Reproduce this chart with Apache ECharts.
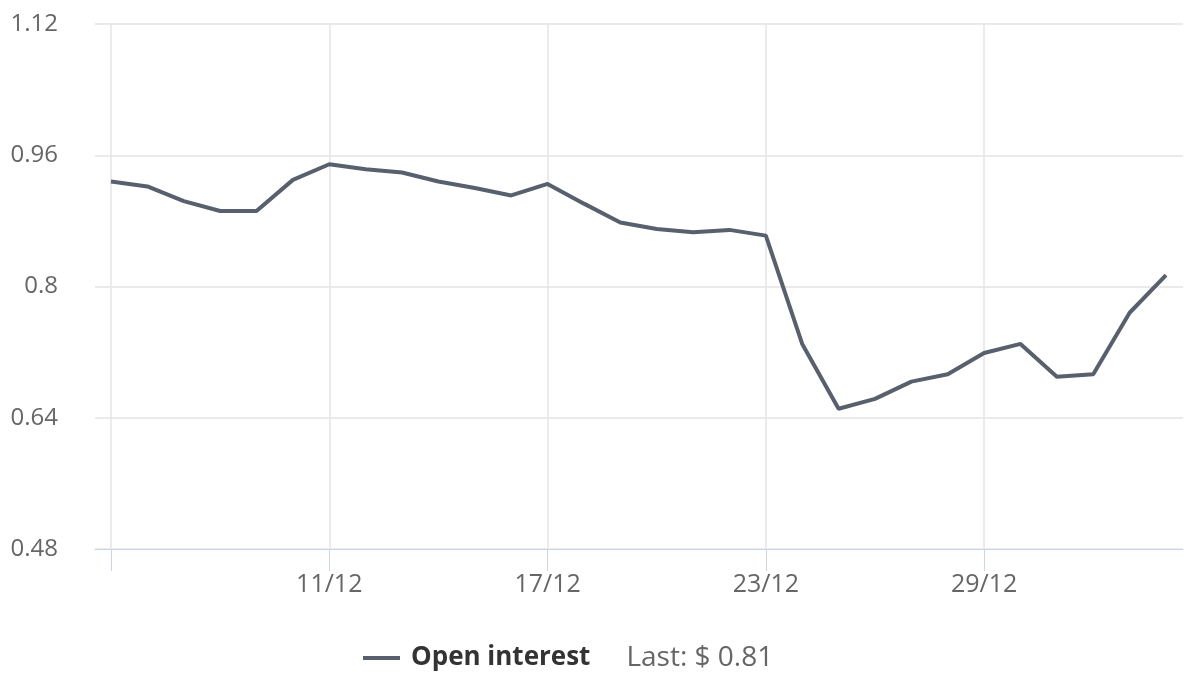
<!DOCTYPE html>
<html>
<head>
<meta charset="utf-8">
<script src="https://cdn.jsdelivr.net/npm/echarts@6/dist/echarts.min.js"></script>
<style>html,body{margin:0;padding:0;background:#fff;}#c{width:1187px;height:674px;}</style>
</head>
<body>
<div id="c"></div>
<script>
const dates = ['5/12','6/12','7/12','8/12','9/12','10/12','11/12','12/12','13/12','14/12','15/12','16/12','17/12','18/12','19/12','20/12','21/12','22/12','23/12','24/12','25/12','26/12','27/12','28/12','29/12','30/12','31/12','1/1','2/1','3/1'];
const openInterest = [0.928,0.922,0.904,0.892,0.892,0.930,0.949,0.943,0.939,0.928,0.920,0.911,0.925,0.901,0.878,0.870,0.866,0.869,0.862,0.730,0.651,0.663,0.684,0.693,0.719,0.730,0.690,0.693,0.768,0.814];
const xTicks = [0,6,12,18,24];
const xLabelTicks = [6,12,18,24];
const seriesName = 'Open interest';
const lastValue = openInterest[openInterest.length-1];

const chart = echarts.init(document.getElementById('c'));
const font = '"Open Sans", "DejaVu Sans", sans-serif';
chart.setOption({
  animation: false,
  textStyle: {fontFamily: font},
  grid: {left: 95, right: 4, top: 24, bottom: 125, containLabel: false},
  xAxis: {
    type: 'value',
    min: -0.44,
    max: openInterest.length - 1 + 0.467,
    axisLine: {show: true, lineStyle: {color: '#ccd6eb', width: 1}},
    axisTick: {show: true, length: 22, inside: false, customValues: xTicks, lineStyle: {color: '#ccd6eb'}},
    axisLabel: {customValues: xLabelTicks, formatter: v => dates[Math.round(v)], color: '#666666', fontSize: 25, margin: 23, fontFamily: font},
    splitLine: {show: true, lineStyle: {color: '#e3e5ea', width: 1.5}}
  },
  yAxis: {
    type: 'value',
    min: 0.48,
    max: 1.12,
    interval: 0.16,
    axisLine: {show: false},
    axisTick: {show: false},
    axisLabel: {color: '#666666', fontSize: 24, margin: 37, fontFamily: font},
    splitLine: {show: true, lineStyle: {color: '#e3e3e3', width: 1.5}}
  },
  legend: {
    bottom: -3,
    left: 358,
    icon: 'rect',
    itemWidth: 37,
    itemHeight: 4,
    data: [seriesName],
    formatter: name => '{n|' + name + '}{l|Last: $ ' + lastValue.toFixed(2) + '}',
    textStyle: {
      rich: {
        n: {fontSize: 26, fontWeight: 'bold', color: '#333333', fontFamily: font, padding: [0, 0, 0, 6]},
        l: {fontSize: 28, color: '#666666', fontFamily: font, padding: [0, 0, 0, 36]}
      }
    }
  },
  series: [{
    name: seriesName,
    type: 'line',
    data: openInterest.map((v, i) => [i, v]),
    symbol: 'none',
    lineStyle: {color: '#58606d', width: 4},
    itemStyle: {color: '#58606d'}
  }]
});
</script>
</body>
</html>
